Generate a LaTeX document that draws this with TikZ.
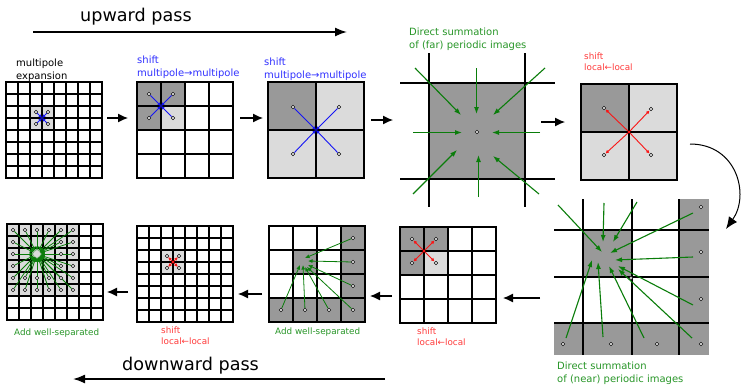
\documentclass[tikz,border=0pt]{standalone}
\usepackage{fontspec}
\setmainfont{DejaVu Sans}
\usetikzlibrary{arrows.meta}

\definecolor{mpblue}{RGB}{20,20,245}
\definecolor{mptext}{RGB}{50,50,255}
\definecolor{dsgreen}{RGB}{10,125,10}
\definecolor{dstext}{RGB}{40,150,40}
\definecolor{lcred}{RGB}{250,20,20}
\definecolor{lctext}{RGB}{255,60,60}
\definecolor{darkcell}{gray}{0.6}
\definecolor{lightcell}{gray}{0.86}

\tikzset{
  gl/.style={line width=1.1pt},
  frame/.style={line width=1.6pt},
  ext/.style={line width=1.1pt},
  dotstyle/.style={line width=0.6pt, fill=white},
  pass/.style={line width=1.6pt, -{Latex[length=12pt,width=9pt]}},
  flow/.style={line width=1.2pt, -{Latex[length=10pt,width=9pt]}},
  mparrow/.style={mpblue, line width=0.9pt, -{Latex[length=3.5pt,width=3.5pt]}},
  lcarrow/.style={lcred, line width=0.9pt, -{Latex[length=3.5pt,width=3.5pt]}},
  dsarrow/.style={dsgreen, line width=1.1pt, -{Latex[length=7pt,width=5pt]}},
  wsarrow/.style={dsgreen, line width=0.8pt, -{Latex[length=4.5pt,width=4pt]}},
  lab/.style={inner sep=0pt, anchor=north west, align=left,
              font=\fontsize{10}{12.7}\selectfont},
  smalllab/.style={lab, font=\fontsize{8.8}{11}\selectfont},
  passlab/.style={inner sep=0pt, anchor=base west, font=\fontsize{17.6}{20}\selectfont}
}

% n x n cells of a given size, top-left corner at (x0,y0)
\newcommand\cellgrid[4]{%
  \pgfmathtruncatemacro\gridlast{#3-1}%
  \foreach \k in {1,...,\gridlast}{%
    \draw[gl] ({#1+\k*#4},#2) -- ++(0,{#3*#4});
    \draw[gl] (#1,{#2+\k*#4}) -- ++({#3*#4},0);
  }%
  \draw[frame] (#1,#2) rectangle ++({#3*#4},{#3*#4});
}
\newcommand\pdot[2]{\draw[dotstyle] ({#1},{#2}) circle[radius=1.8pt];}

\begin{document}
\begin{tikzpicture}[x=1pt,y=-1pt]
\fill[white] (0,0) rectangle (741,386);
\useasboundingbox (0,0) rectangle (741,386);

% ---------------- passes ----------------
\node[passlab] (up) at (80,21) {upward pass};
\draw[pass] (33,32) -- (347,32);
\node[passlab] (down) at (122,370) {downward pass};
\draw[pass] (385,379) -- (73,379);

% ---------------- multipole expansion ----------------
\node[lab] (labA) at (16,59) {multipole\\expansion};
\fill[lightcell] (30,106) rectangle (54,130);
\cellgrid{6}{82}{8}{12}
\foreach \px/\py in {36/112,48/112,36/124,48/124}
  {\draw[mparrow, shorten <=1.5pt] (\px,\py) -- (42,118);}
\foreach \px/\py in {36/112,48/112,36/124,48/124} {\pdot{\px}{\py}}

\draw[flow] (107,118) -- (128,118);

% ---------------- shift multipole -> multipole (fine) ----------------
\node[lab, text=mptext] (labB) at (137,56) {shift\\multipole→multipole};
\fill[darkcell] (137,82) rectangle (185,106);
\fill[darkcell] (137,106) rectangle (161,130);
\fill[lightcell] (161,106) rectangle (185,130);
\cellgrid{137}{82}{4}{24}
\foreach \px/\py in {149/94,173/94,149/118,173/118}
  {\draw[mparrow, shorten <=2pt] (\px,\py) -- (161,106);}
\foreach \px/\py in {149/94,173/94,149/118,173/118} {\pdot{\px}{\py}}

\draw[flow] (240,118) -- (263,118);

% ---------------- shift multipole -> multipole (coarse) ----------------
\node[lab, text=mptext] (labC) at (264,58) {shift\\multipole→multipole};
\fill[lightcell] (268,82) rectangle (364,178);
\fill[darkcell] (268,82) rectangle (316,130);
\cellgrid{268}{82}{2}{48}
\foreach \px/\py in {293/107,339/107,293/154,339/154}
  {\draw[mparrow, shorten <=2pt] (\px,\py) -- (316,130);}
\foreach \px/\py in {293/107,339/107,293/154,339/154} {\pdot{\px}{\py}}

\draw[flow] (371,120) -- (393,120);

% ---------------- far periodic images ----------------
\node[lab, text=dstext] (labD) at (409,28) {Direct summation\\of (far) periodic images};
\fill[darkcell] (429,83) rectangle (525,179);
\draw[ext] (400,83) -- (555,83);
\draw[ext] (400,179) -- (555,179);
\draw[ext] (429,53) -- (429,207);
\draw[ext] (525,53) -- (525,207);
\draw[frame] (429,83) rectangle (525,179);
\foreach \ax/\ay/\bx/\by in {415/68/461/115, 476.5/68/476.5/114, 545/68/493/115,
    413/132.5/462/132.5, 540/132.5/492/132.5, 413/194/457/150, 478.5/197/478.5/155, 539/194/493/156}
  {\draw[dsarrow] (\ax,\ay) -- (\bx,\by);}
\pdot{477}{132}

\draw[flow] (541,122) -- (565,122);

% ---------------- shift local <- local (coarse) ----------------
\node[smalllab, text=lctext] (labE) at (584,53) {shift\\local←local};
\fill[lightcell] (581,84) rectangle (677,180);
\fill[darkcell] (581,84) rectangle (629,132);
\cellgrid{581}{84}{2}{48}
\foreach \px/\py in {604/108,651/109,604/155,651/155}
  {\draw[lcarrow, shorten >=2pt] (629,132) -- (\px,\py);}
\foreach \px/\py in {604/108,651/109,604/155,651/155} {\pdot{\px}{\py}}

\draw[line width=1pt, -{Latex[length=12pt,width=10pt]}]
  (690,144) .. controls (737,144) and (750,195) .. (726,229);

% ---------------- near periodic images ----------------
\fill[darkcell] (583,230) rectangle (632,277);
\fill[darkcell] (679,199) rectangle (709,355);
\fill[darkcell] (554,323) rectangle (709,355);
\foreach \vx in {583,632,679} {\draw[line width=1.2pt] (\vx,199) -- (\vx,355);}
\foreach \hy in {230,277,323} {\draw[line width=1.2pt] (554,\hy) -- (709,\hy);}
\foreach \ax/\ay/\bx/\by in {558/205/602/252, 604/203/603/242, 637/202/613/242,
    693/213/610/253, 693/257/615/260, 693/305/618/266, 692/338/618/269,
    644/338/609/266, 603/337/598/262, 566/338/592/260}
  {\draw[dsarrow] (\ax,\ay) -- (\bx,\by);}
\foreach \px/\py in {701/207,701/252,701/299,701/344,563/344,611/344,657/344,631/278}
  {\pdot{\px}{\py}}
\node[lab, text=dstext] (labF) at (557,362) {Direct summation\\of (near) periodic images};

\draw[flow] (540,298) -- (503,298);

% ---------------- shift local <- local (first fine level) ----------------
\fill[darkcell] (400,227) rectangle (448,251);
\fill[darkcell] (400,251) rectangle (424,275);
\fill[lightcell] (424,251) rectangle (448,275);
\cellgrid{400}{227}{4}{24}
\foreach \px/\py in {412/239,436/239,412/263,436/263}
  {\draw[lcarrow, shorten >=2pt] (424,251) -- (\px,\py);}
\foreach \px/\py in {412/239,436/239,412/263,436/263} {\pdot{\px}{\py}}
\node[smalllab, text=lctext] (labG) at (417,328) {shift\\local←local};

\draw[flow] (392,296) -- (370,296);

% ---------------- add well-separated (coarse) ----------------
\fill[darkcell] (341,226) rectangle (365,322);
\fill[darkcell] (269,298) rectangle (365,322);
\fill[darkcell] (293,250) rectangle (317,274);
\cellgrid{269}{226}{4}{24}
\foreach \ax/\ay/\bx/\by in {353/238/305/258, 353/262/308/261, 353/286/308/265,
    353/310/307/267, 329/310/305/267, 305/310/303/265, 281/310/300/265}
  {\draw[wsarrow, shorten <=2pt] (\ax,\ay) -- (\bx,\by);}
\foreach \px/\py in {353/238,353/262,353/286,353/310,281/310,305/310,329/310}
  {\pdot{\px}{\py}}
\node[smalllab, text=dstext] (labH) at (275,328) {Add well-separated};

\draw[flow] (262,294) -- (238,294);

% ---------------- shift local <- local (fine) ----------------
\fill[lightcell] (161,250) rectangle (185,274);
\cellgrid{137}{226}{8}{12}
\foreach \px/\py in {167/256,179/256,167/268,179/268}
  {\draw[lcarrow, shorten >=1.5pt] (173,262) -- (\px,\py);}
\foreach \px/\py in {167/256,179/256,167/268,179/268} {\pdot{\px}{\py}}
\node[smalllab, text=lctext] (labI) at (161,327) {shift\\local←local};

\draw[flow] (128,292) -- (107,292);

% ---------------- add well-separated (fine) ----------------
\fill[lightcell] (7,224) rectangle (79,296);
\cellgrid{7}{224}{8}{12}
\foreach \c in {0,...,5}{\foreach \r in {0,...,5}{%
  \pgfmathtruncatemacro\nearcell{and(and(\c>0,\c<4),and(\r>0,\r<4))}%
  \ifnum\nearcell=0
    \draw[wsarrow, shorten <=2pt, shorten >=3pt] ({13+12*\c},{230+12*\r}) -- (37,254);
  \fi
}}
\foreach \c in {0,...,5}{\foreach \r in {0,...,5}{%
  \pgfmathtruncatemacro\nearcell{and(and(\c>0,\c<4),and(\r>0,\r<4))}%
  \ifnum\nearcell=0
    \pdot{13+12*\c}{230+12*\r}
  \fi
}}
\node[smalllab, text=dstext] (labJ) at (14,329) {Add well-separated};

\end{tikzpicture}
\end{document}
